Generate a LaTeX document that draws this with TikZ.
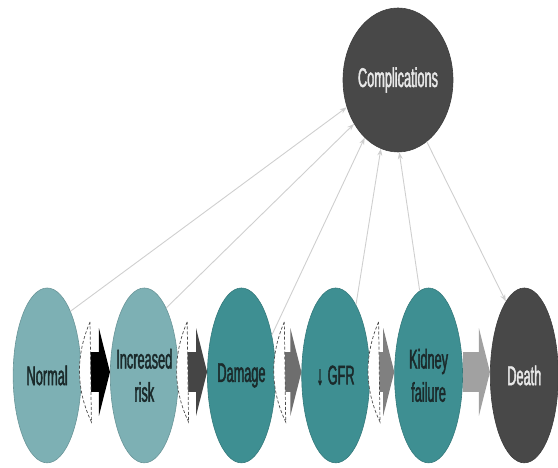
\documentclass[tikz,border=0pt]{standalone}
\usepackage{fontspec}
\setmainfont{Liberation Sans}[FakeStretch=0.47, FakeBold=1.5]
\usetikzlibrary{shapes.geometric, arrows.meta, backgrounds}
\definecolor{ckdlight}{HTML}{7DB0B4}
\definecolor{ckdteal}{HTML}{3E8F92}
\definecolor{ckddark}{HTML}{484848}
\definecolor{ckdtext}{HTML}{1B2A2B}
\definecolor{ckdwhite}{HTML}{E8E8E8}
\definecolor{ckdline}{HTML}{CFCFCF}

\begin{document}
\begin{tikzpicture}[
  stage/.style={
    ellipse,
    draw=#1!85!black,
    line width=0.6pt,
    fill=#1,
    minimum width=2.38cm,
    minimum height=6.12cm,
    inner sep=-0.3cm,
    align=center,
    font=\fontsize{27}{33}\selectfont,
    text=ckdtext
  },
  flow/.style={
    draw=#1,
    line width=39pt,
    -{Triangle[length=11pt,width=87pt]}
  },
  link/.style={
    ckdline,
    line width=0.9pt,
    -{Stealth[length=7pt,width=5pt]}
  },
  brk/.pic={
    \draw[densely dashed, draw=black!70, fill=white, line width=0.7pt]
      (0,1.75) .. controls (-0.5,0.6) and (-0.5,-0.6) .. (0.05,-1.75)
      .. controls (0.03,-0.6) and (0.02,0.6) .. cycle;
  }
]
  \useasboundingbox (0,0) rectangle (19.53,16.38);

  \node[stage=ckdlight] (normal) at (1.65,3.24) {Normal};
  \node[stage=ckdlight] (incr) at (5.05,3.24) {Increased\\risk};
  \node[stage=ckdteal] (damage) at (8.45,3.24) {Damage};
  \node[stage=ckdteal] (gfr) at (11.75,3.24) {↓\,GFR};
  \node[stage=ckdteal] (kidney) at (15.0,3.24) {Kidney\\failure};
  \node[stage=ckddark, text=ckdwhite] (death) at (18.35,3.24) {Death};

  \node[stage=ckddark, text=ckdwhite, minimum width=3.85cm, minimum height=5.04cm] (comp) at (13.93,13.58) {Complications};

  % progression arrows
  \begin{scope}[on background layer]
    \draw[flow=black] ([xshift=0.3cm,yshift=0.12cm]normal.east) -- ([yshift=0.12cm]incr.west);
    \draw[flow=black!73] ([xshift=0.3cm,yshift=0.12cm]incr.east) -- ([yshift=0.12cm]damage.west);
    \draw[flow=black!57] ([xshift=0.3cm,yshift=0.12cm]damage.east) -- ([yshift=0.12cm]gfr.west);
    \draw[flow=black!50] ([xshift=0.3cm,yshift=0.12cm]gfr.east) -- ([yshift=0.12cm]kidney.west);
    \draw[flow=black!37] ([yshift=0.12cm]kidney.east) -- ([yshift=0.12cm]death.west);
  \end{scope}

  \path ([xshift=0.3cm,yshift=0.12cm]normal.east) pic {brk};
  \path ([xshift=0.3cm,yshift=0.12cm]incr.east) pic {brk};
  \path ([xshift=0.3cm,yshift=0.12cm]damage.east) pic {brk};
  \path ([xshift=0.3cm,yshift=0.12cm]gfr.east) pic {brk};

  % links to complications
  \draw[link] (normal.70) -- (comp.208);
  \draw[link] (incr.72) -- (comp.225);
  \draw[link] (damage.53) -- (comp.240);
  \draw[link] (gfr.74) -- (comp.256);
  \draw[link] (kidney.96) -- (comp.271);
  \draw[link] (comp.295) -- (death.104);
\end{tikzpicture}
\end{document}
